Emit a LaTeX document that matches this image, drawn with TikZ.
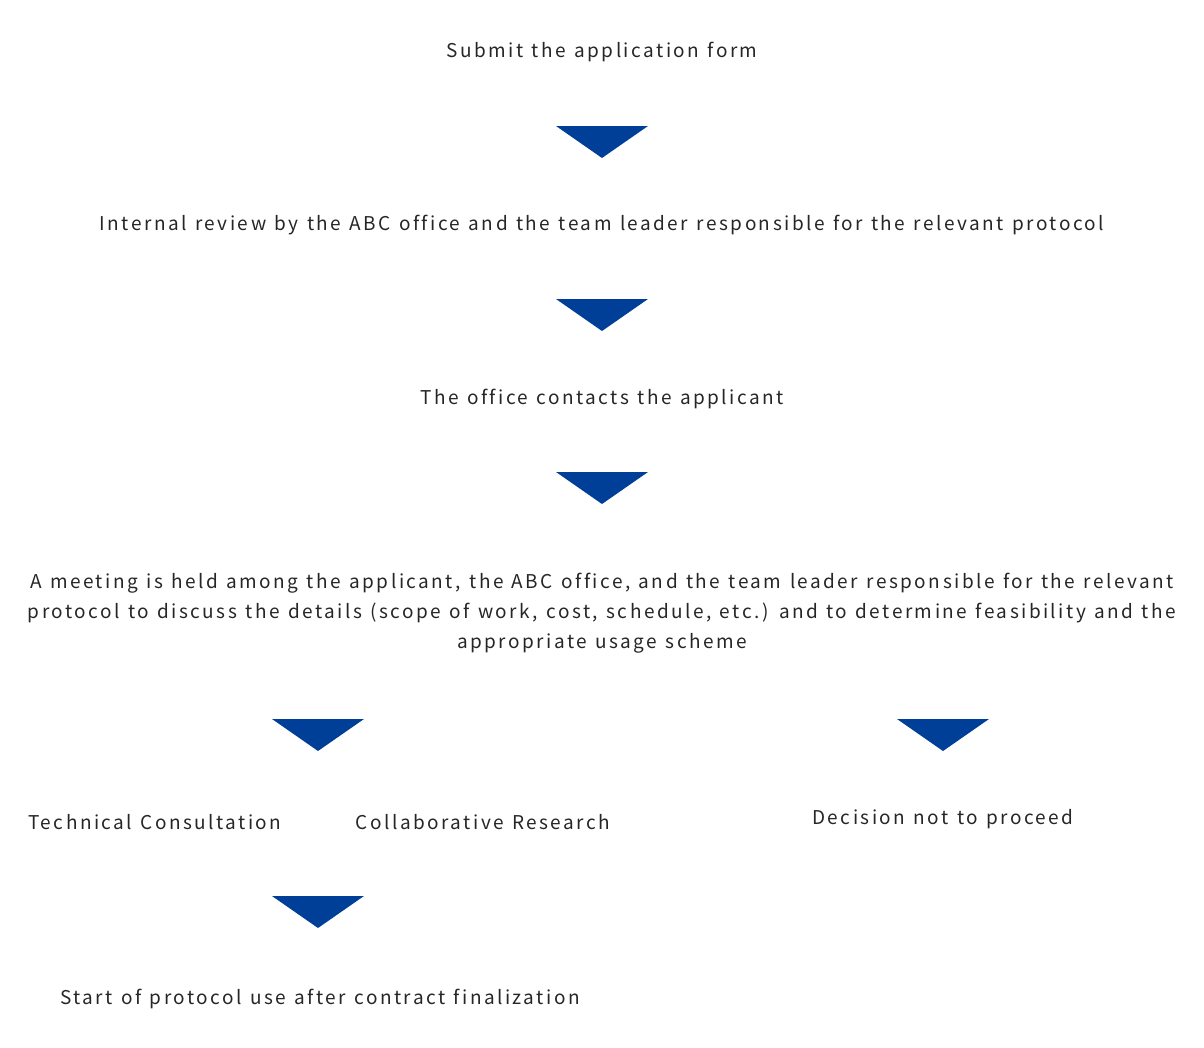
\documentclass[tikz,border=0pt]{standalone}
\usepackage{fontspec}
\setmainfont{Noto Sans CJK JP}[LetterSpace=13,WordSpace=1.25,Ligatures=NoCommon]
\definecolor{navy}{HTML}{003F98}
\begin{document}
\begin{tikzpicture}[x=1pt,y=-1pt,
  t/.style={inner sep=0pt,font=\fontsize{19}{30}\selectfont,text=black!85},
  tri/.style={fill=navy}]
\useasboundingbox (0,0) rectangle (1204,1047);
\newcommand\arr[3]{\fill[navy] (#1-46,#2) -- (#1+46,#2) -- (#1,#2+32) -- cycle; \coordinate (#3) at (#1,#2);}
\node[t] (a) at (602,52) {Submit the application form};
\arr{602}{126}{t1}
\node[t] (b) at (602,225) {Internal review by the ABC office and the team leader responsible for the relevant protocol};
\arr{602}{299}{t2}
\node[t] (c) at (602,399) {The office contacts the applicant};
\arr{602}{472}{t3}
\node[t,align=center] (d) at (602,613) {A meeting is held among the applicant, the ABC office, and the team leader responsible for the relevant\\ protocol to discuss the details (scope of work, cost, schedule, etc.) and to determine feasibility and the\\ appropriate usage scheme};
\arr{318}{719}{t4}
\arr{943}{719}{t5}
\node[t] (e) at (155,822) {Technical Consultation};
\node[t] (f) at (483,822) {Collaborative Research};
\node[t] (g) at (943,819) {Decision not to proceed};
\arr{318}{896}{t6}
\node[t] (h) at (320,999) {Start of protocol use after contract finalization};
\end{tikzpicture}
\end{document}
